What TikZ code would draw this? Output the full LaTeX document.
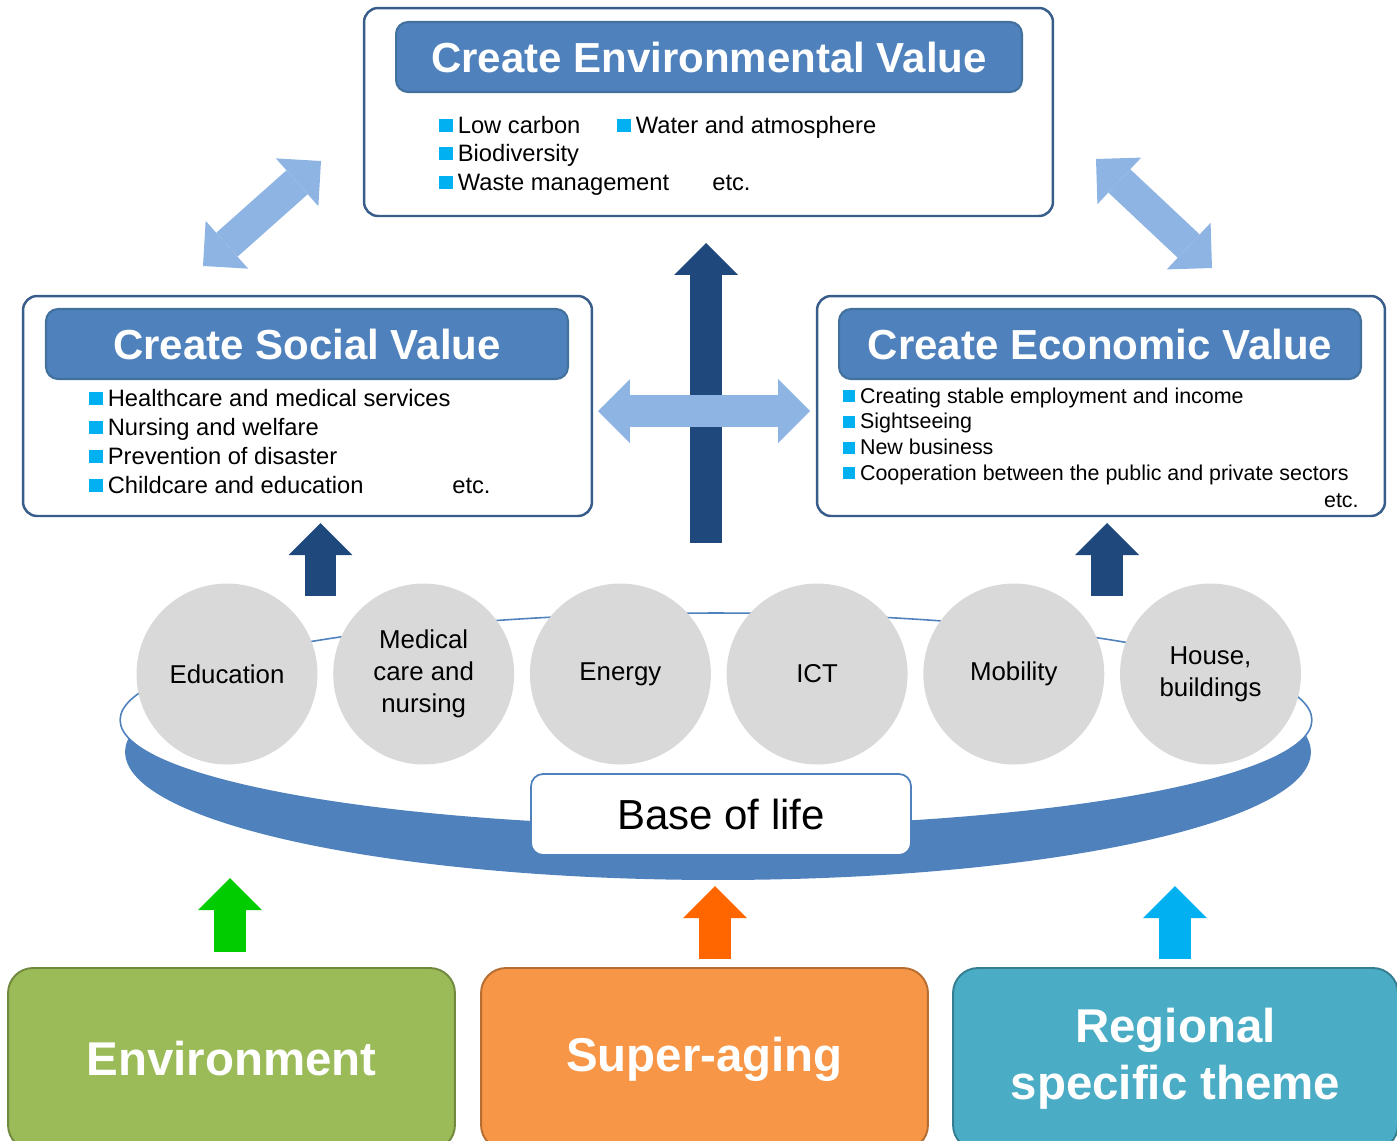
\documentclass[tikz,border=0pt]{standalone}
\usepackage{fontspec}
\setmainfont{Liberation Sans}
\usepackage{tikz}
\usetikzlibrary{arrows.meta}
\definecolor{titleblue}{HTML}{4F81BD}
\definecolor{titleline}{HTML}{41719C}
\definecolor{boxline}{HTML}{385D8A}
\definecolor{lightarrow}{HTML}{8EB4E3}
\definecolor{darkarrow}{HTML}{1F497D}
\definecolor{bulletblue}{HTML}{00B0F0}
\definecolor{circlegray}{HTML}{D9D9D9}
\definecolor{envgreen}{HTML}{9BBB59}
\definecolor{envline}{HTML}{71893F}
\definecolor{ageorange}{HTML}{F79646}
\definecolor{ageline}{HTML}{B66D31}
\definecolor{regteal}{HTML}{4BACC6}
\definecolor{regline}{HTML}{357D91}
\definecolor{upgreen}{HTML}{00CC00}
\definecolor{uporange}{HTML}{FF6600}
\definecolor{upcyan}{HTML}{00B0F0}
\newcommand{\bul}{\textcolor{bulletblue}{\rule[0.04em]{0.56em}{0.56em}}\hspace{0.22em}}

\begin{document}
\begin{tikzpicture}[x=0.02cm,y=-0.02cm,
  outerbox/.style={draw=boxline, line width=1.4pt, fill=white, rounded corners=0.28cm, inner sep=0pt},
  titlebar/.style={draw=titleline, line width=1.2pt, fill=titleblue, rounded corners=0.24cm, inner sep=0pt,
    minimum width=10.44cm, minimum height=1.4cm, text=white, font=\fontsize{23.9}{28}\selectfont\bfseries},
  item/.style={anchor=base west, inner sep=0pt, font=\fontsize{13.5}{16}\selectfont},
  smallitem/.style={item, font=\fontsize{12.2}{14}\selectfont},
  field/.style={circle, fill=circlegray, minimum size=3.62cm, inner sep=0pt, align=center,
    font=\fontsize{14.7}{18.1}\selectfont},
  theme/.style 2 args={draw=#1, fill=#2, line width=1.1pt, rounded corners=0.5cm, inner sep=0pt,
    minimum width=8.94cm, minimum height=3.64cm, align=center, text=white,
    font=\fontsize{27}{32.3}\selectfont\bfseries},
  fatarrow/.style={line width=0.64cm, -{Triangle[length=0.64cm, width=1.28cm, line width=0pt]}},
  fatboth/.style={line width=0.64cm, {Triangle[length=0.64cm, width=1.28cm, line width=0pt]}-{Triangle[length=0.64cm, width=1.28cm, line width=0pt]}}]
\useasboundingbox (0,0) rectangle (1397,1140);
\clip (0,0) rectangle (1397,1140);

% base of life ring
\fill[titleblue] (718,752) ellipse [x radius=11.86cm, y radius=2.56cm];
\filldraw[fill=white, draw=titleblue, line width=0.9pt] (716,720) ellipse [x radius=11.92cm, y radius=2.14cm];
\node[draw=titleblue, line width=1pt, fill=white, rounded corners=0.24cm, minimum width=7.6cm, minimum height=1.62cm,
  font=\fontsize{23.9}{28}\selectfont] (base) at (721,814.5) {Base of life};

% fields
\foreach \t [count=\i from 0] in {Education, Medical\\care and\\nursing, Energy, ICT, Mobility, {House,\\buildings}}
  \node[field] (f\i) at (227+196.7*\i,674) {\t};

% value boxes
\node[outerbox, minimum width=13.78cm, minimum height=4.16cm] (env) at (708.5,112) {};
\node[titlebar, minimum width=12.52cm] (envtitle) at (709,57) {Create Environmental Value};
\node[item] (env1) at (439,133) {\bul Low carbon};
\node[item] (env2) at (439,161) {\bul Biodiversity};
\node[item] (env3) at (439,190) {\bul Waste management};
\node[item] (env4) at (617,133) {\bul Water and atmosphere};
\node[item] (envetc) at (712,190) {etc.};

\node[outerbox, minimum width=11.38cm, minimum height=4.4cm] (soc) at (307.5,406) {};
\node[titlebar] (soctitle) at (307,344) {Create Social Value};
\foreach \t [count=\i] in {Healthcare and medical services, Nursing and welfare, Prevention of disaster, Childcare and education}
  \node[item] (soc\i) at (89,406+29*\i-29) {\bul \t};
\node[item] (socetc) at (452,493) {etc.};

\node[outerbox, minimum width=11.36cm, minimum height=4.4cm] (eco) at (1101,406) {};
\node[titlebar] (ecotitle) at (1100,344) {Create Economic Value};
\foreach \t [count=\i] in {Creating stable employment and income, Sightseeing, New business, Cooperation between the public and private sectors}
  \node[smallitem] (eco\i) at (843,403+25.7*\i-25.7) {\bul \t};
\node[smallitem, anchor=base east] (ecoetc) at (1359,507) {etc.};

% arrows between values
\coordinate (a1) at (203,266); \coordinate (a2) at (321,161);
\coordinate (b1) at (1096,159); \coordinate (b2) at (1212,268);
\coordinate (vb) at (706,543); \coordinate (vt) at (706,243);
\coordinate (h1) at (598,411); \coordinate (h2) at (810,411);
\draw[fatboth, lightarrow] (a1) -- (a2);
\draw[fatboth, lightarrow] (b1) -- (b2);
\draw[fatarrow, darkarrow] (vb) -- (vt);
\draw[fatboth, lightarrow] (h1) -- (h2);
\coordinate (s1) at (320.5,596); \coordinate (s2) at (320.5,523);
\coordinate (e1) at (1107,596); \coordinate (e2) at (1107,523);
\draw[fatarrow, darkarrow] (s1) -- (s2);
\draw[fatarrow, darkarrow] (e1) -- (e2);

% themes
\node[theme={envline}{envgreen}] (tenv) at (231.5,1059) {Environment};
\node[theme={ageline}{ageorange}] (tage) at (704.5,1059) {Super-aging};
\node[theme={regline}{regteal}, minimum width=8.9cm] (treg) at (1175.5,1059) {Regional\\specific theme};
\coordinate (g1) at (230,952); \coordinate (g2) at (230,878);
\coordinate (o1) at (715,959); \coordinate (o2) at (715,886);
\coordinate (c1) at (1175,959); \coordinate (c2) at (1175,886);
\draw[fatarrow, upgreen] (g1) -- (g2);
\draw[fatarrow, uporange] (o1) -- (o2);
\draw[fatarrow, upcyan] (c1) -- (c2);
\end{tikzpicture}
\end{document}
